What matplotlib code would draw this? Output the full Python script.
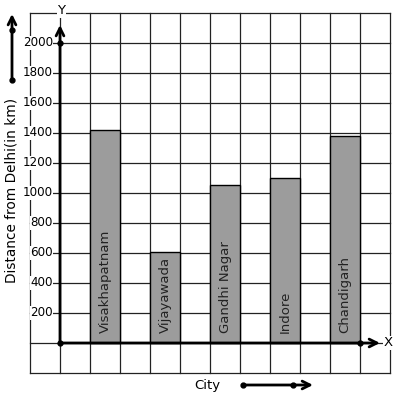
import numpy as np
import matplotlib.pyplot as plt

# data
cities = ['Visakhapatnam', 'Vijayawada', 'Gandhi Nagar', 'Indore', 'Chandigarh']
distances = [1420, 610, 1050, 1100, 1380]
bar_pos = [1.5, 3.5, 5.5, 7.5, 9.5]
yticks = [200, 400, 600, 800, 1000, 1200, 1400, 1600, 1800, 2000]

fig = plt.figure(figsize=(3.97, 3.99), dpi=100)
ax = fig.add_axes([0, 0, 1, 1])
ax.set_xlim(-2, 337 / 30)
ax.set_ylim(-56 * 200 / 30, 343 * 200 / 30)
ax.axis('off')

# grid paper
for gx in range(-1, 12):
    ax.plot([gx, gx], [-200, 2200], color='#222222', lw=0.9, zorder=1)
for gy in range(-200, 2201, 200):
    ax.plot([-1, 11], [gy, gy], color='#222222', lw=0.9, zorder=1)

# bars
ax.bar(bar_pos, distances, width=1, color='#9c9c9c', edgecolor='black',
       lw=1, zorder=2)
for x, name in zip(bar_pos, cities):
    ax.text(x, 65, name, rotation=90, ha='center', va='bottom',
            fontsize=9.5, color='#222222', zorder=3)

# tick labels with white background
for t in yticks:
    ax.text(-0.23, t, str(t), ha='right', va='center', fontsize=8.6,
            bbox=dict(facecolor='white', edgecolor='none', pad=0.3), zorder=3)

# axes with arrows
arr = dict(arrowstyle='->', lw=2, color='black', mutation_scale=14,
           shrinkA=0, shrinkB=0)
ax.annotate('', xy=(0, 2120), xytext=(0, 0), arrowprops=arr, zorder=4)
ax.annotate('', xy=(320 / 30, 0), xytext=(0, 0), arrowprops=arr, zorder=4)
ax.plot([0, 0, 10], [0, 2000, 0], 'o', color='black', ms=3.5, zorder=5)
ax.text(0.05, 2215, 'Y', ha='center', va='center', fontsize=9.5,
        bbox=dict(facecolor='white', edgecolor='none', pad=0.5), zorder=3)
ax.text(10.93, 0, 'X', ha='center', va='center', fontsize=9.5,
        bbox=dict(facecolor='white', edgecolor='none', pad=0.5), zorder=3)

# axis titles
ax.text(-1.6, 1020, 'Distance from Delhi(in km)', rotation=90, ha='center',
        va='center', fontsize=9.8,
        bbox=dict(facecolor='white', edgecolor='none', pad=0.5), zorder=3)
ax.text(4.9, -280, 'City', ha='center', va='center', fontsize=9.5)

# direction arrows
ax.annotate('', xy=(-48 / 30, 329 * 200 / 30), xytext=(-48 / 30, 263 * 200 / 30),
            arrowprops=arr, zorder=4)
ax.plot([-48 / 30, -48 / 30], [263 * 200 / 30, 313 * 200 / 30], 'o',
        color='black', ms=3.5, zorder=5)
ax.annotate('', xy=(253 / 30, -280), xytext=(183 / 30, -280),
            arrowprops=arr, zorder=4)
ax.plot([183 / 30, 233 / 30], [-280, -280], 'o', color='black', ms=3.5,
        zorder=5)

fig.savefig('out.png', dpi=100)
